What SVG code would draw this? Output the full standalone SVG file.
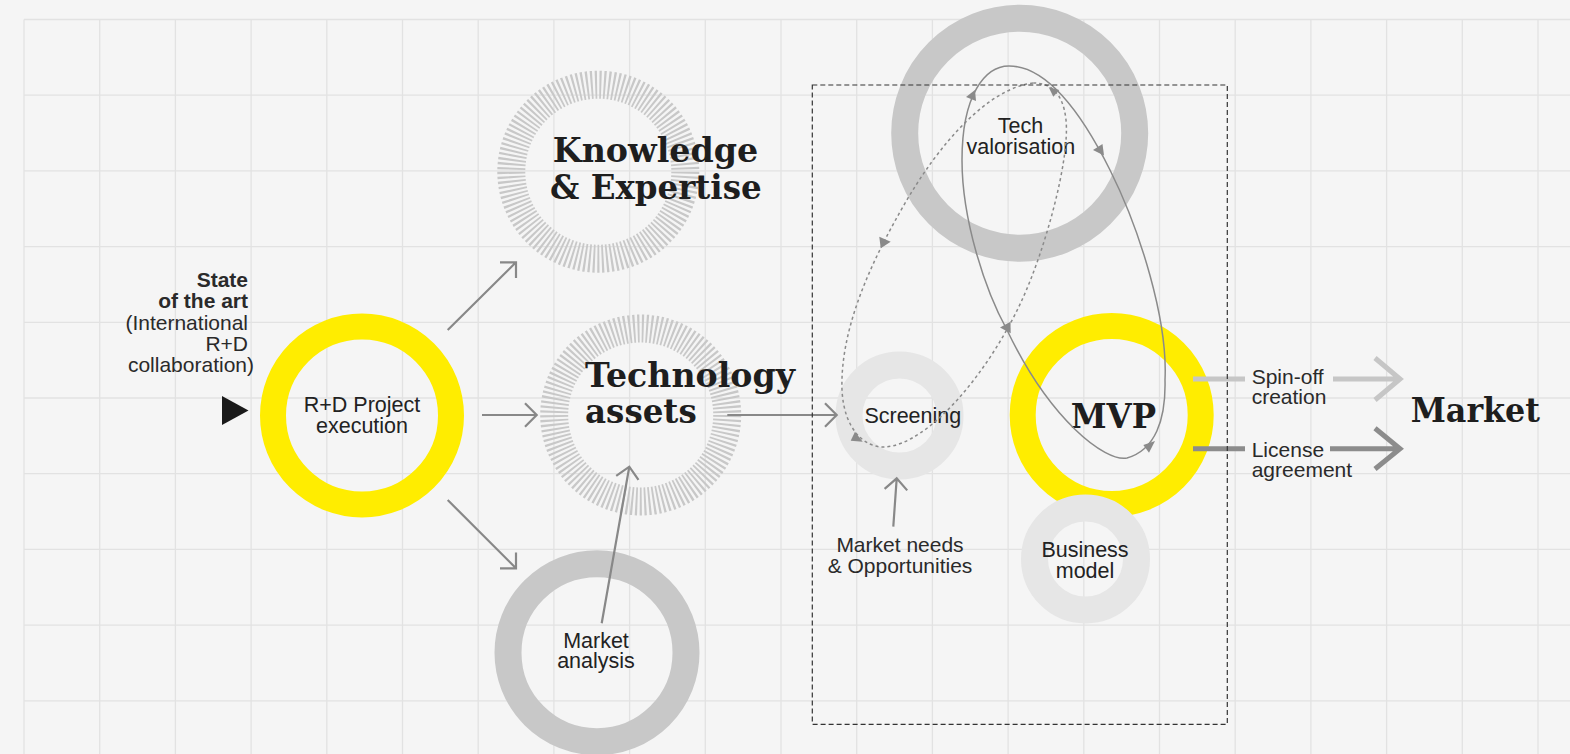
<svg xmlns="http://www.w3.org/2000/svg" width="1570" height="754" viewBox="0 0 1570 754">
<style>
.bg{fill:#f5f5f5}
.grid{stroke:#e2e2e2;stroke-width:1.3;fill:none}
.ring{fill:none}
.yel{stroke:#ffed00;stroke-width:26}
.dark{stroke:#c8c8c8;stroke-width:27}
.light{stroke:#e6e6e6;stroke-width:27}
.tick{stroke:#c8c8c8;stroke-width:28;stroke-dasharray:0.47 0.53}
.lbl{font-family:"Liberation Sans",Arial,sans-serif;font-size:21.5px;fill:#222;text-anchor:middle}
.ann{font-family:"Liberation Sans",Arial,sans-serif;font-size:21px;fill:#2a2a2a}
.ttl{font-family:"DejaVu Serif","Liberation Serif",serif;font-weight:bold;font-size:34px;fill:#1e1e1e}
.con{stroke:#888;stroke-width:2.2;fill:none;stroke-linecap:butt}
.curve{stroke:#8a8a8a;stroke-width:1.5;fill:none}
.dcurve{stroke:#8a8a8a;stroke-width:1.5;fill:none;stroke-dasharray:3 3}
.head{fill:#8a8a8a}
.box{fill:none;stroke:#333;stroke-width:1.2;stroke-dasharray:5 3}
</style>
<rect class="bg" x="0" y="0" width="1570" height="754"/>
<g id="grid">
<path class="grid" d="M24 19.5V754M99.7 19.5V754M175.4 19.5V754M251.1 19.5V754M326.8 19.5V754M402.5 19.5V754M478.2 19.5V754M553.9 19.5V754M629.6 19.5V754M705.3 19.5V754M781 19.5V754M856.7 19.5V754M932.4 19.5V754M1008.1 19.5V754M1083.8 19.5V754M1159.5 19.5V754M1235.2 19.5V754M1310.9 19.5V754M1386.6 19.5V754M1462.3 19.5V754M1538 19.5V754M24 19.5H1570M24 95.2H1570M24 170.9H1570M24 246.6H1570M24 322.3H1570M24 398H1570M24 473.7H1570M24 549.4H1570M24 625.1H1570M24 700.8H1570"/>
</g>
<g id="state-of-the-art">
<text class="ann" text-anchor="end" x="248" y="286.7" font-weight="bold" fill="#333">State</text>
<text class="ann" text-anchor="end" x="248" y="308.3" font-weight="bold" fill="#333">of the art</text>
<text class="ann" text-anchor="end" x="248" y="330">(International</text>
<text class="ann" text-anchor="end" x="248" y="350.7">R+D</text>
<text class="ann" text-anchor="end" x="254" y="371.7">collaboration)</text>
<polygon points="222,396 248.5,410.5 222,425" fill="#1a1a1a"/>
</g>
<g id="rd-project">
<circle class="ring yel" cx="362" cy="415.5" r="89"/>
<text class="lbl" x="362" y="411.7">R+D Project</text>
<text class="lbl" x="362" y="433">execution</text>
</g>
<g id="knowledge">
<circle class="ring tick" cx="598.3" cy="171.7" r="87" pathLength="125"/>
<text class="ttl" x="552.7" y="161.7" textLength="205.6" lengthAdjust="spacingAndGlyphs">Knowledge</text>
<text class="ttl" x="550" y="199.3" textLength="211.7" lengthAdjust="spacingAndGlyphs">&amp; Expertise</text>
</g>
<g id="market-analysis">
<circle class="ring dark" cx="597" cy="652.7" r="89"/>
<text class="lbl" x="596" y="647.7">Market</text>
<text class="lbl" x="596" y="668.3">analysis</text>
</g>
<g id="tech-valorisation">
<circle class="ring dark" cx="1019.7" cy="133.2" r="115"/>
<text class="lbl" x="1020.5" y="133.3">Tech</text>
<text class="lbl" x="1020.8" y="154">valorisation</text>
</g>
<g id="screening">
<circle class="ring light" cx="899.5" cy="415.5" r="50.5"/>
<text class="lbl" x="912.8" y="423.3">Screening</text>
</g>
<g id="mvp">
<circle class="ring yel" cx="1111.7" cy="415" r="89"/>
<text class="ttl" x="1070.7" y="427.7" textLength="85.3" lengthAdjust="spacingAndGlyphs">MVP</text>
</g>
<g id="business-model">
<circle class="ring light" cx="1085.5" cy="559" r="51"/>
<text class="lbl" x="1085" y="556.7">Business</text>
<text class="lbl" x="1085" y="577.7">model</text>
</g>
<g id="technology">
<circle class="ring tick" cx="640.7" cy="415" r="86.5" pathLength="125"/>
</g>
<g id="connectors">
<path class="con" d="M447.7 330L516 262.3M500 262.3H516V278"/>
<path class="con" d="M482 415H536.7M525 403.3L536.7 415L525 426.7"/>
<path class="con" d="M447.7 500L516 568.3M500 568.3H516V552.5"/>
<path class="con" d="M601.7 623.3L629.3 466.7M616.2 475.9L629.3 466.7L638.5 479.8"/>
<path class="con" d="M727.3 415H836.7M825 403.3L836.7 415L825 426.7"/>
<path class="con" d="M893.3 526.7L896.7 478.3M884.6 488.8L896.7 478.3L907.2 490.4"/>
<path d="M1193 379H1245M1333 379H1397M1375 358L1400 379L1375 400" fill="none" stroke="#c6c6c6" stroke-width="5"/>
<path d="M1193 448.7H1245M1330 448.7H1397M1375 428.3L1400 448.7L1375 469" fill="none" stroke="#8c8c8c" stroke-width="5"/>
<path class="curve" d="M1009 66C1045 66 1080 110 1110 170C1140 230 1168 320 1165 380C1166 420 1155 450 1127 458C1105 462 1050 420 1007 330C985 290 962 220 962 160C962 95 985 66 1009 66Z"/>
<path class="dcurve" d="M1033 83C990 88 940 140 900 212C870 265 840 330 842 390C844 430 865 448 885 447C930 444 990 370 1022 300C1045 250 1070 160 1066 120C1063 92 1050 83 1033 83Z"/>
<polygon class="head" points="966,97 975,90 976,101"/>
<polygon class="head" points="1048.7,87.3 1059.3,90 1053.3,96.7"/>
<polygon class="head" points="1093,150 1102.5,144 1104,155.5"/>
<polygon class="head" points="1000,327.5 1010.5,321.7 1010.7,333.3"/>
<polygon class="head" points="1155,441 1143.3,445 1149,452.7"/>
<polygon class="head" points="890.7,241.7 879.3,236.7 880.7,248.3"/>
<polygon class="head" points="862.7,441.7 855,431.7 850.7,440.7"/>
</g>
<g id="technology-label">
<text class="ttl" x="585" y="387.3" textLength="210" lengthAdjust="spacingAndGlyphs">Technology</text>
<text class="ttl" x="585" y="423.3" textLength="111.7" lengthAdjust="spacingAndGlyphs">assets</text>
</g>
<g id="market-needs">
<text class="ann" text-anchor="middle" x="900" y="551.7">Market needs</text>
<text class="ann" text-anchor="middle" x="900" y="572.7">&amp; Opportunities</text>
</g>
<g id="spin-off">
<text class="ann" x="1251.7" y="384">Spin-off</text>
<text class="ann" x="1251.7" y="404">creation</text>
</g>
<g id="license">
<text class="ann" x="1251.7" y="456.7">License</text>
<text class="ann" x="1251.7" y="476.7">agreement</text>
</g>
<g id="market">
<text class="ttl" x="1410.7" y="422.3" textLength="129.3" lengthAdjust="spacingAndGlyphs">Market</text>
</g>
<rect id="prototype-box" class="box" x="812.3" y="85" width="415" height="639.3"/>
</svg>
